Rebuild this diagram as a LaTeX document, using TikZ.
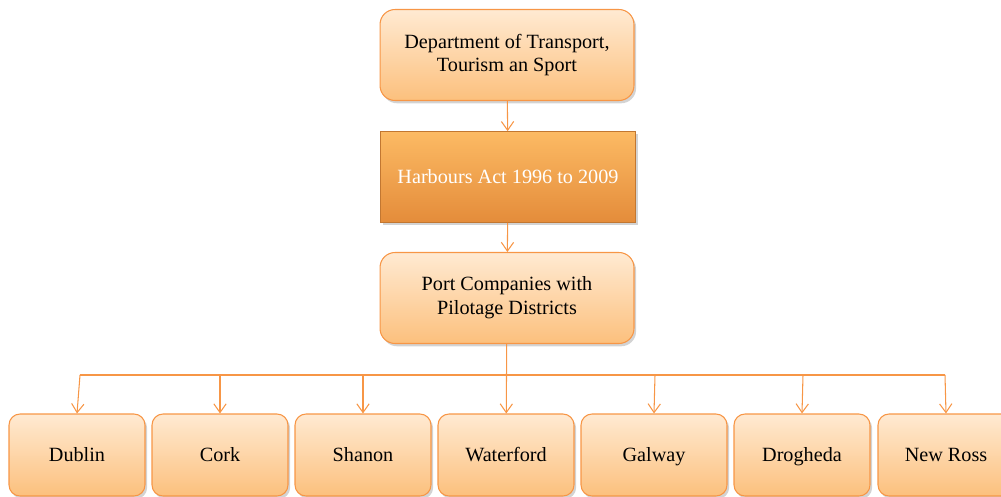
\documentclass[tikz,border=0pt]{standalone}
\usepackage{fontspec}
\setmainfont{Liberation Serif}
\usetikzlibrary{shadows,arrows.meta}
\definecolor{edgeor}{RGB}{247,150,70}
\definecolor{lighttop}{RGB}{255,234,210}
\definecolor{lightbot}{RGB}{252,192,125}
\definecolor{darktop}{RGB}{252,186,100}
\definecolor{darkbot}{RGB}{228,140,58}
\tikzset{
  lightbox/.style={draw=edgeor, line width=0.6pt, rounded corners=0.3cm,
    top color=lighttop, bottom color=lightbot, align=center,
    font=\fontsize{11.5}{13.5}\selectfont,
    drop shadow={opacity=0.35, shadow xshift=1.2pt, shadow yshift=-1.6pt}},
  topbox/.style={lightbox, minimum width=5.08cm, minimum height=1.82cm},
  portbox/.style={lightbox, rounded corners=0.22cm, minimum width=2.72cm, minimum height=1.64cm,
    text height=1.0em, text depth=0.22em},
  actbox/.style={draw=darkbot!85!black, line width=0.4pt,
    top color=darktop, bottom color=darkbot, text=white, align=center,
    font=\fontsize{11.5}{13.5}\selectfont, minimum width=5.1cm, minimum height=1.82cm,
    drop shadow={opacity=0.35, shadow xshift=1.2pt, shadow yshift=-1.6pt}},
  conn/.style={draw=edgeor, line width=0.6pt},
  arr/.style={conn, -{Straight Barb[length=5pt,width=7pt,line width=0.6pt]}}
}
\begin{document}
\begin{tikzpicture}[x=0.02cm,y=-0.02cm]
\useasboundingbox (0,0) rectangle (1001,497);
\clip (0,0) rectangle (1001,497);
\node[topbox] (dept) at (507,55) {Department of Transport,\\Tourism an Sport};
\node[actbox] (act) at (508,177) {Harbours Act 1996 to 2009};
\node[topbox] (port) at (507,298) {Port Companies with\\Pilotage Districts};
\node[portbox] (dublin) at (77,455) {Dublin};
\node[portbox] (cork) at (220,455) {Cork};
\node[portbox] (shanon) at (363,455) {Shanon};
\node[portbox] (waterford) at (506,455) {Waterford};
\node[portbox, minimum width=2.92cm] (galway) at (654,455) {Galway};
\node[portbox] (drogheda) at (802,455) {Drogheda};
\node[portbox] (newross) at (946,455) {New Ross};
\coordinate (b1) at (80,375);
\coordinate (b2) at (220,375);
\coordinate (b3) at (363,375);
\coordinate (b5) at (655,375);
\coordinate (b6) at (803,375);
\coordinate (b7) at (945,375);
\draw[arr] (dept) -- (act);
\draw[arr] (act) -- (port);
\draw[arr] (port) -- (waterford);
\draw[conn] (b1) -- (b7);
\draw[arr] (b1) -- (dublin.north);
\draw[arr] (b2) -- (cork.north);
\draw[arr] (b3) -- (shanon.north);
\draw[arr] (b5) -- (galway.north);
\draw[arr] (b6) -- (drogheda.north);
\draw[arr] (b7) -- (newross.north);
\end{tikzpicture}
\end{document}
